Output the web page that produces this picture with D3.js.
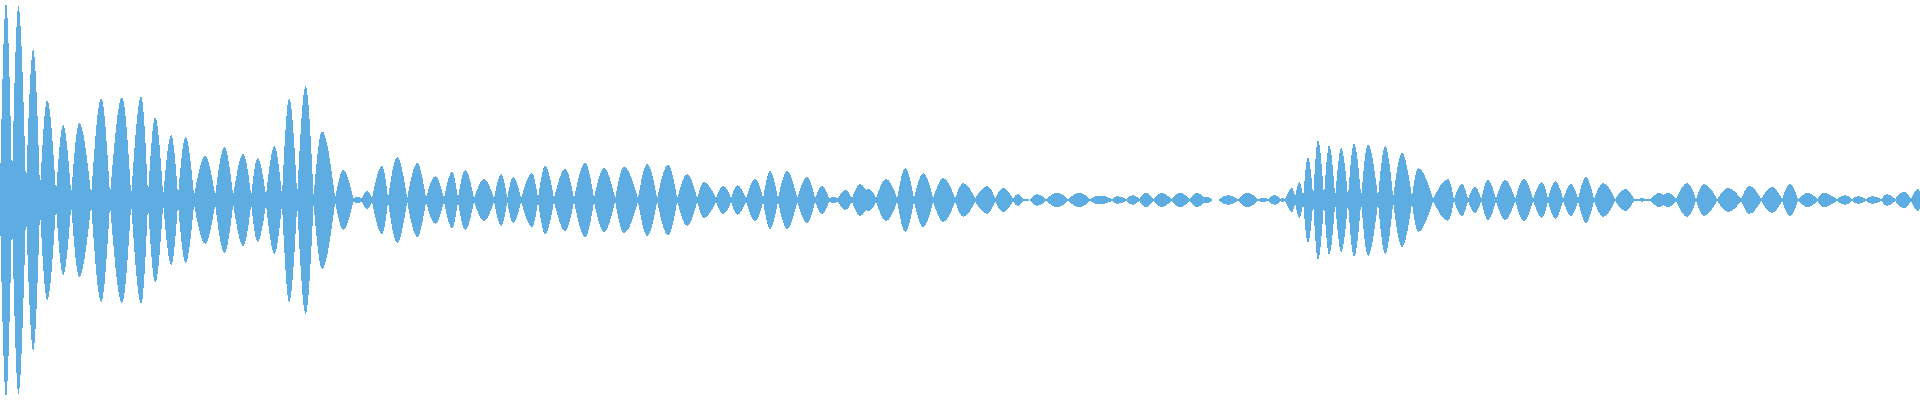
<!DOCTYPE html>
<html>
<head>
<meta charset="utf-8">
<script src="https://cdn.jsdelivr.net/npm/d3@7/dist/d3.min.js"></script>
<style>
  html, body { margin: 0; padding: 0; background: #ffffff; overflow: hidden; }
  svg { display: block; }
</style>
</head>
<body>
<svg id="chart" width="1920" height="400"></svg>
<script>
// Waveform envelope: each lobe rises from a neck to a peak and falls to the next neck.
// Times in milliseconds, levels in percent of full scale.
const peakTimes = [
  15, 46, 83, 118, 158, 198, 253, 305, 353, 388, 428, 464, 513, 561, 608, 644, 686, 723, 764, 805,
  858, 895, 918, 955, 993, 1043, 1088, 1130, 1163, 1210, 1253, 1283, 1330, 1363, 1413, 1463, 1510, 1560, 1618, 1670,
  1718, 1760, 1808, 1843, 1888, 1925, 1968, 2018, 2055, 2083, 2113, 2150, 2173, 2215, 2263, 2308, 2358, 2408, 2468, 2508,
  2543, 2568, 2593, 2643, 2698, 2750, 2793, 2833, 2865, 2905, 2950, 2993, 3018, 3039, 3070, 3118, 3160, 3188, 3205, 3230,
  3248, 3270, 3295, 3323, 3353, 3385, 3420, 3463, 3505, 3545, 3620, 3655, 3688, 3720, 3763, 3810, 3855, 3888, 3928, 3965,
  4008, 4063, 4105, 4150, 4170, 4218, 4260, 4320, 4373, 4430, 4475, 4520, 4558, 4613, 4645, 4680, 4718, 4760, 4795
];
const peakLevels = [
  100, 98.5, 76.6, 50.8, 38.1, 39.1, 51.8, 52.3, 52.8, 42.1, 33.0, 32.0, 22.3, 26.9, 23.4, 21.3, 27.4, 51.8, 57.9, 35.0,
  15.2, 1.5, 4.6, 17.3, 21.8, 18.8, 12.2, 14.2, 15.2, 10.7, 13.2, 11.7, 13.7, 17.3, 15.7, 18.8, 16.2, 16.8, 18.3, 17.8,
  13.2, 9.1, 7.1, 7.6, 10.7, 14.7, 14.7, 11.7, 7.1, 1.5, 5.1, 8.1, 5.6, 10.7, 16.2, 13.7, 11.2, 8.6, 7.1, 6.1,
  3.0, 0.5, 3.0, 3.6, 3.6, 2.3, 2.0, 2.5, 3.6, 3.6, 3.6, 3.6, 1.5, 0, 2.5, 3.6, 1.0, 2.5, 1.0, 6.1,
  9.1, 21.8, 30.5, 27.9, 26.4, 28.9, 28.4, 27.4, 23.9, 16.2, 10.7, 8.1, 6.6, 10.2, 10.2, 10.7, 9.1, 9.6, 8.1, 11.7,
  8.6, 5.6, 0.8, 3.6, 3.6, 8.6, 8.1, 6.1, 7.1, 6.6, 8.1, 3.6, 3.6, 2.5, 2.0, 2.0, 3.0, 4.1, 5.6
];
const neckTimes = [
  0, 30, 65, 100, 140, 178, 228, 275, 328, 370, 408, 445, 485, 538, 583, 628, 665, 705, 743, 784, 838,
  883, 905, 930, 970, 1018, 1065, 1110, 1145, 1185, 1235, 1268, 1303, 1345, 1385, 1435, 1485, 1538, 1595, 1643, 1693,
  1743, 1790, 1828, 1865, 1908, 1945, 1993, 2038, 2073, 2095, 2130, 2165, 2190, 2243, 2285, 2333, 2388, 2438, 2488, 2533,
  2560, 2575, 2615, 2670, 2725, 2780, 2815, 2848, 2883, 2928, 2975, 3010, 3033, 3045, 3095, 3145, 3170, 3200, 3213, 3238,
  3258, 3283, 3310, 3338, 3370, 3403, 3445, 3483, 3530, 3583, 3635, 3670, 3703, 3740, 3788, 3833, 3870, 3908, 3945, 3985,
  4038, 4085, 4125, 4158, 4190, 4240, 4293, 4353, 4403, 4455, 4495, 4543, 4593, 4630, 4665, 4703, 4738, 4778, 4800
];
const neckLevels = [
  6.6, 9.1, 6.1, 5.1, 3.6, 3.0, 2.5, 2.3, 2.3, 2.3, 2.3, 2.3, 2.3, 2.3, 2.3, 2.3, 2.3, 2.3, 2.3, 2.0, 1.0,
  0.9, 0.9, 0.9, 0.9, 0.9, 0.9, 0.9, 0.9, 0.9, 0.9, 0.9, 0.9, 0.9, 0.9, 0.9, 0.9, 0.9, 0.9, 0.9, 0.9,
  0.9, 0.9, 0.9, 0.9, 0.9, 0.9, 0.9, 0.9, 0.9, 0.9, 0.9, 5.1, 0.9, 0.9, 0.9, 0.9, 0.9, 0.9, 0.8, 0.5,
  0.25, 0, 0.5, 0.5, 0.5, 0.5, 0.5, 0.5, 0.5, 0.5, 0.5, 1.5, 0, 0, 0.5, 0.5, 0.5, 0.5, 0.5, 1.5,
  1.5, 1.5, 1.5, 1.5, 1.5, 1.5, 1.5, 1.5, 1.5, 0.5, 0.5, 0.5, 0.5, 0.5, 0.5, 0.5, 0.5, 0.5, 0.5, 0.5,
  0.5, 0.5, 0.5, 2.5, 0.5, 0.5, 0.5, 0.5, 0.5, 0.5, 0.5, 0.5, 0.5, 0.5, 0.5, 0.5, 0.5, 0.5, 4.1
];

const width = 1920, height = 400;
const color = "#5DADE2";

const x = d3.scaleLinear().domain([0, 4800]).range([0, width]);
const y = d3.scaleLinear().domain([-100, 100]).range([397, 3]);

const area = d3.area()
  .x(d => x(d.t))
  .y0(d => y(-d.v))
  .y1(d => y(d.v))
  .curve(d3.curveMonotoneX);

const lobes = peakTimes.map((t, i) => [
  { t: neckTimes[i], v: neckLevels[i] },
  { t: t, v: peakLevels[i] },
  { t: neckTimes[i + 1], v: neckLevels[i + 1] }
]);

const svg = d3.select("#chart");
svg.append("path")
  .attr("d", lobes.map(l => area(l)).join(""))
  .attr("fill", color)
  .attr("shape-rendering", "crispEdges");
</script>
</body>
</html>
